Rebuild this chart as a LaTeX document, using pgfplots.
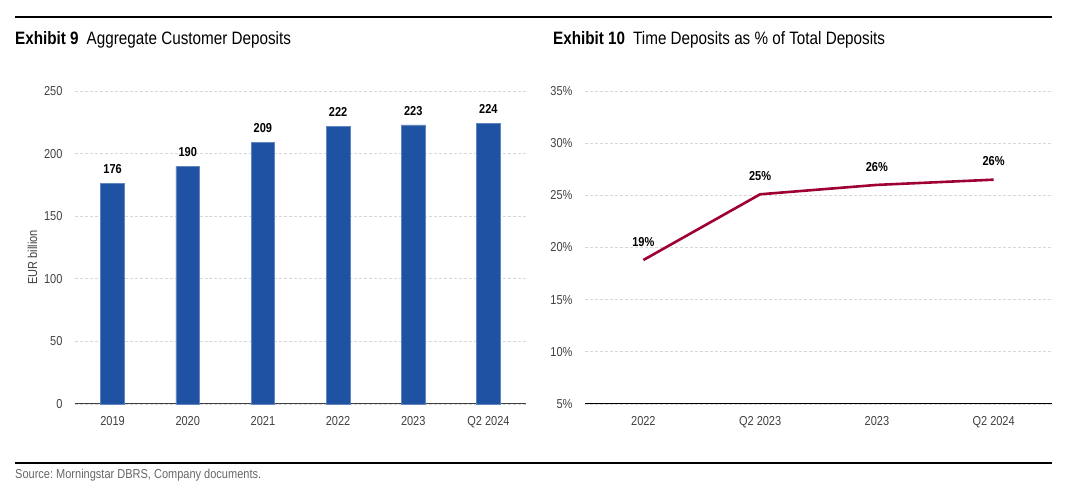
\documentclass[border=0pt]{standalone}
\usepackage{pgfplots}
\pgfplotsset{compat=1.18}
\usepackage{fontspec}
\setmainfont{Liberation Sans}[FakeStretch=0.85]
\frenchspacing
\definecolor{barblue}{RGB}{31,82,163}
\definecolor{linered}{RGB}{158,0,50}
\definecolor{ticktxt}{RGB}{64,64,64}
\definecolor{gridgray}{RGB}{215,215,215}
\newcommand{\tk}{\fontsize{13}{15}\selectfont}
\begin{document}
\begin{tikzpicture}
\path[use as bounding box] (0,0) rectangle (1074bp,490bp);
% rules
\draw[line width=1.2bp] (15bp,473bp) -- (1052bp,473bp);
\draw[line width=1.2bp] (15bp,27bp) -- (1052bp,27bp);
% titles
\node[anchor=base west, inner sep=0] at (15bp,445bp)
  {\fontsize{18}{21}\selectfont\bfseries Exhibit 9\hspace{8bp}\mdseries Aggregate Customer Deposits};
\node[anchor=base west, inner sep=0] at (553bp,445bp)
  {\fontsize{18}{21}\selectfont\bfseries Exhibit 10\hspace{8bp}\mdseries Time Deposits as \% of Total Deposits};
\node[anchor=base west, inner sep=0, text=black!60] at (15bp,12bp)
  {\tk Source: Morningstar DBRS, Company documents.};

\begin{axis}[
  at={(75bp,86bp)}, anchor=south west,
  scale only axis, width=451bp, height=313bp,
  xmin=-0.5, xmax=5.5, ymin=0, ymax=250,
  xtick=data, xticklabels={2019,2020,2021,2022,2023,Q2 2024},
  ytick={0,50,100,150,200,250},
  axis x line*=bottom, axis y line*=left,
  x axis line style={draw=black!75, line width=1bp, -},
  y axis line style={draw=none},
  major tick length=0pt,
  ymajorgrids, grid style={densely dashed, gridgray, line width=0.8bp},
  tick label style={font=\tk, text=ticktxt},
  /pgf/number format/assume math mode=true,
  yticklabel style={xshift=-9bp},
  xticklabel style={yshift=-9bp},
  ylabel={EUR billion}, ylabel style={font=\tk, text=ticktxt},
  every axis y label/.append style={at={(ticklabel cs:0.5)}, xshift=-10bp},
  ybar, bar width=23.6bp,
  nodes near coords,
  every node near coord/.append style={font=\tk\bfseries, text=black, yshift=6bp},
  clip=false,
]
\addplot[fill=barblue, draw=barblue!70!white, line width=0.6bp] coordinates {
  (0,176) (1,190) (2,209) (3,222) (4,223) (5,224)};
\end{axis}

\begin{axis}[
  at={(585bp,86bp)}, anchor=south west,
  scale only axis, width=467bp, height=313bp,
  xmin=-0.5, xmax=3.5, ymin=5, ymax=35,
  xtick=data, xticklabels={2022,Q2 2023,2023,Q2 2024},
  ytick={5,10,15,20,25,30,35},
  yticklabel={\pgfmathprintnumber{\tick}\%},
  axis x line*=bottom, axis y line*=left,
  x axis line style={draw=black, line width=1bp, -},
  y axis line style={draw=none},
  major tick length=0pt,
  ymajorgrids, grid style={densely dashed, gridgray, line width=0.8bp},
  tick label style={font=\tk, text=ticktxt},
  /pgf/number format/assume math mode=true,
  yticklabel style={xshift=-9bp},
  xticklabel style={yshift=-9bp},
  point meta=explicit symbolic,
  nodes near coords,
  every node near coord/.append style={font=\tk\bfseries, text=black, yshift=9bp},
  clip=false,
]
\addplot[linered, line width=2.6bp, no markers] coordinates {
  (0,18.8) [19\%] (1,25.1) [25\%] (2,26.0) [26\%] (3,26.5) [26\%]};
\end{axis}
\end{tikzpicture}
\end{document}
